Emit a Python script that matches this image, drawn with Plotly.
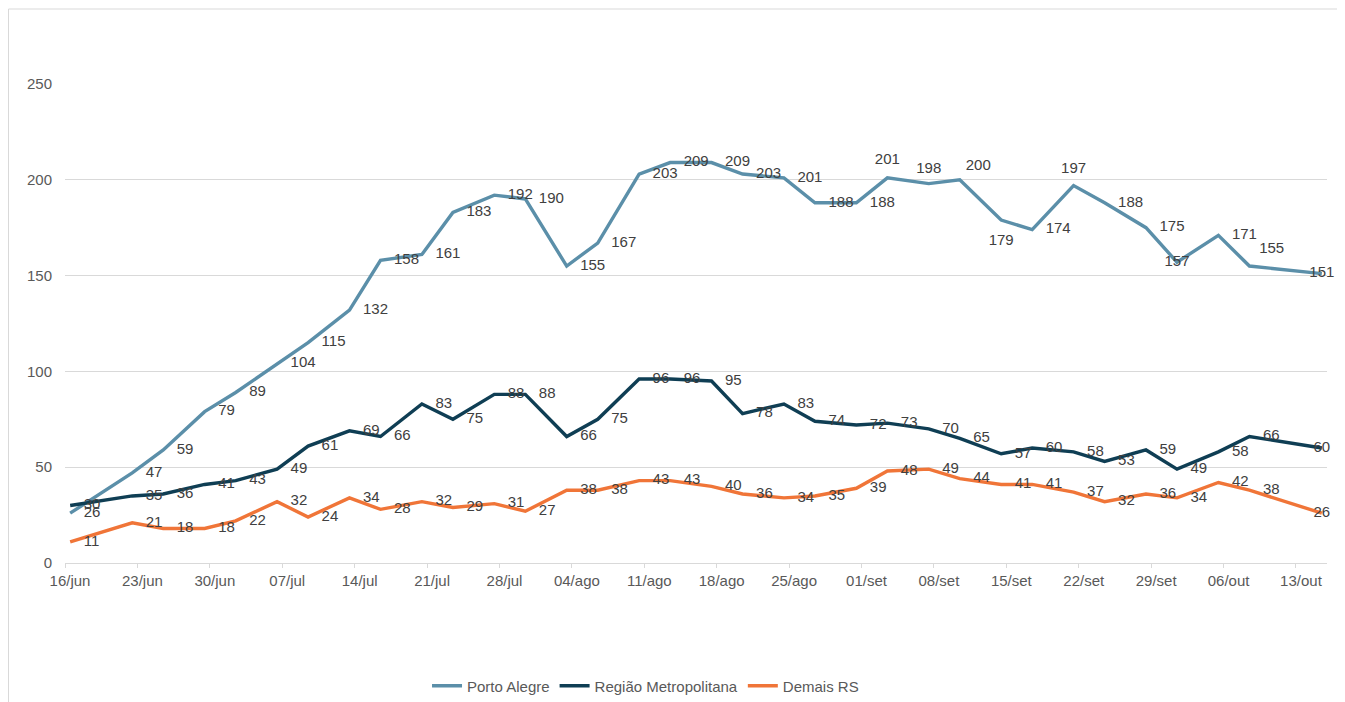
import plotly.graph_objects as go

# ---- data ----
dates = [
    "2020-06-16", "2020-06-22", "2020-06-25", "2020-06-29", "2020-07-02",
    "2020-07-06", "2020-07-09", "2020-07-13", "2020-07-16", "2020-07-20",
    "2020-07-23", "2020-07-27", "2020-07-30", "2020-08-03", "2020-08-06",
    "2020-08-10", "2020-08-13", "2020-08-17", "2020-08-20", "2020-08-24",
    "2020-08-27", "2020-08-31", "2020-09-03", "2020-09-07", "2020-09-10",
    "2020-09-14", "2020-09-17", "2020-09-21", "2020-09-24", "2020-09-28",
    "2020-10-01", "2020-10-05", "2020-10-08", "2020-10-15",
]
porto_alegre = [26, 47, 59, 79, 89, 104, 115, 132, 158, 161, 183, 192, 190, 155,
                167, 203, 209, 209, 203, 201, 188, 188, 201, 198, 200, 179, 174,
                197, 188, 175, 157, 171, 155, 151]
regiao_metropolitana = [30, 35, 36, 41, 43, 49, 61, 69, 66, 83, 75, 88, 88, 66,
                        75, 96, 96, 95, 78, 83, 74, 72, 73, 70, 65, 57, 60, 58,
                        53, 59, 49, 58, 66, 60]
demais_rs = [11, 21, 18, 18, 22, 32, 24, 34, 28, 32, 29, 31, 27, 38, 38, 43, 43,
             40, 36, 34, 35, 39, 48, 49, 44, 41, 41, 37, 32, 36, 34, 42, 38, 26]
tick_dates = ["2020-06-16", "2020-06-23", "2020-06-30", "2020-07-07", "2020-07-14",
              "2020-07-21", "2020-07-28", "2020-08-04", "2020-08-11", "2020-08-18",
              "2020-08-25", "2020-09-01", "2020-09-08", "2020-09-15", "2020-09-22",
              "2020-09-29", "2020-10-06", "2020-10-13"]
tick_labels = ["16/jun", "23/jun", "30/jun", "07/jul", "14/jul", "21/jul", "28/jul",
               "04/ago", "11/ago", "18/ago", "25/ago", "01/set", "08/set", "15/set",
               "22/set", "29/set", "06/out", "13/out"]

# points sit in the middle of their day slot
xs = [d + " 12:00" for d in dates]

FONT = "Liberation Sans, Arial, sans-serif"
LABEL_COLOR = "#404040"
AXIS_COLOR = "#595959"
GRID = "#d9d9d9"

series = [
    ("Porto Alegre", porto_alegre, "#5b8fa9"),
    ("Região Metropolitana", regiao_metropolitana, "#0f3e54"),
    ("Demais RS", demais_rs, "#f07538"),
]

# label placements that differ from the default "right" in the reference
# (position, spacing of the invisible marker that sets the label gap)
pa_label_pos = {22: ("top center", 14), 23: ("top center", 10),
                24: ("top right", 8), 25: ("bottom center", 20),
                27: ("top center", 12), 30: ("middle center", 20),
                32: ("top right", 14)}

fig = go.Figure()
for name, vals, color in series:
    pos = ["middle right"] * len(vals)
    gap = [20] * len(vals)
    pos[-1] = "middle center"
    if name == "Porto Alegre":
        for i, (p, g) in pa_label_pos.items():
            pos[i] = p
            gap[i] = g
    fig.add_trace(go.Scatter(
        x=xs, y=vals, name=name, mode="lines+markers+text", showlegend=False,
        line=dict(color=color, width=3.4),
        marker=dict(size=gap, opacity=0, line=dict(width=0)),
        text=[str(v) for v in vals], textposition=pos,
        textfont=dict(family=FONT, size=15, color=LABEL_COLOR),
        cliponaxis=False, hoverinfo="x+y+name",
    ))
# legend entries (line only)
for name, vals, color in series:
    fig.add_trace(go.Scatter(
        x=[None], y=[None], name=name, mode="lines",
        line=dict(color=color, width=3.4), showlegend=True,
    ))

W, H = 1337, 694
L, R, T, B = 57, 18, 76, 139
PW, PH = W - L - R, H - T - B

fig.update_layout(
    width=W, height=H,
    paper_bgcolor="white", plot_bgcolor="white",
    margin=dict(l=L, r=R, t=T, b=B, autoexpand=False),
    font=dict(family=FONT, size=15, color=AXIS_COLOR),
    showlegend=True,
    legend=dict(orientation="h", x=0.46, xanchor="center", y=-0.2568,
                yanchor="middle", font=dict(family=FONT, size=15, color=AXIS_COLOR),
                itemwidth=30, tracegroupgap=0),
    xaxis=dict(
        type="date", range=["2020-06-16", "2020-10-16"],
        tickmode="array", tickvals=tick_dates, ticktext=tick_labels,
        ticks="outside", ticklen=4, tickcolor=GRID, ticklabelshift=5,
        showline=True, linecolor=GRID, linewidth=1,
        showgrid=False, zeroline=False,
        tickfont=dict(family=FONT, size=15, color=AXIS_COLOR),
    ),
    yaxis=dict(
        range=[0, 250], dtick=50, tick0=0,
        showgrid=True, gridcolor=GRID, gridwidth=1,
        showline=False, zeroline=False, ticklabelstandoff=12,
        tickfont=dict(family=FONT, size=15, color=AXIS_COLOR),
    ),
    shapes=[dict(type="rect", xref="paper", yref="paper",
                 x0=(0.5 - L) / PW, x1=(1332 - L) / PW,
                 y0=(H - T - PH - 720) / PH, y1=(T + PH - 1) / PH,
                 line=dict(color=GRID, width=1), fillcolor="rgba(0,0,0,0)",
                 layer="below")],
)

fig.write_html("out.html")
